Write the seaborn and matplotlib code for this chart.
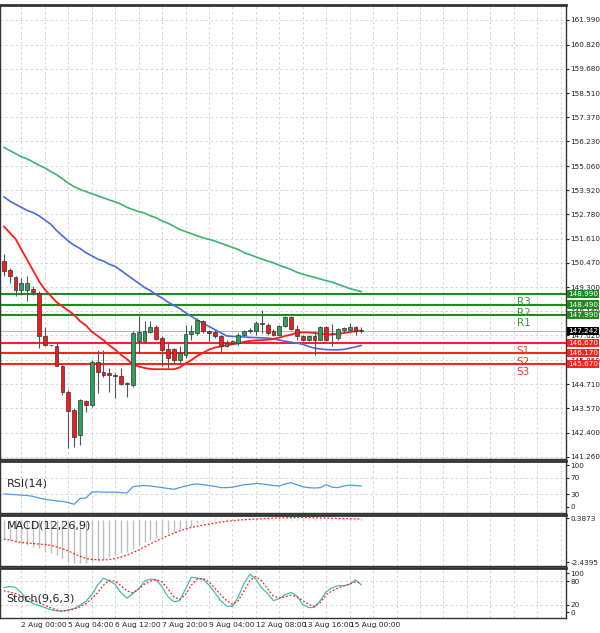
import numpy as np
import pandas as pd
import matplotlib
matplotlib.use("Agg")
import matplotlib.pyplot as plt
import matplotlib.transforms as mtrans
import seaborn as sns

sns.set_style("white")

# ---------------- data ----------------
opens = [150.55,150.12,149.8,149.2,149.2,149.23,149.04,146.98,146.56,146.5,145.58,144.36,143.48,142.29,143.93,143.72,
         145.78,145.31,145.26,145.15,145.1,144.76,144.67,146.74,146.74,147.17,147.42,146.9,146.37,146.37,145.86,146.1,
         147.1,147.14,147.72,147.22,147.17,147.0,146.5,146.66,146.66,147.06,147.22,147.22,147.58,147.53,147.22,147.06,
         147.48,147.9,147.33,146.98,146.82,146.98,146.82,147.42,147.15,146.9,147.26,147.26,147.42,147.29]
highs = [150.9,150.23,149.83,149.75,149.83,149.36,149.12,147.42,146.58,146.66,145.63,144.44,143.56,143.99,143.96,145.86,
         146.34,146.34,145.47,145.23,145.47,144.83,147.22,147.93,147.69,147.69,147.53,146.98,146.66,146.42,146.5,147.53,
         147.53,147.85,147.77,147.29,147.26,147.03,146.82,146.8,147.14,147.29,147.37,147.69,148.22,147.61,147.33,147.53,
         147.93,147.93,147.53,147.06,147.03,147.22,147.45,147.48,147.58,147.37,147.42,147.61,147.45,147.42]
lows = [149.83,149.52,148.88,148.96,148.64,148.96,146.42,146.5,146.52,145.55,144.2,141.66,141.74,141.82,143.4,143.64,
        144.28,145.07,144.36,144.04,144.67,144.12,144.59,146.18,146.66,147.14,146.82,145.55,145.47,145.71,145.71,145.94,
        146.82,147.06,147.14,146.74,146.9,146.26,146.47,146.62,146.58,146.98,147.14,147.06,147.14,147.06,146.98,146.98,
        147.42,147.29,146.82,146.74,146.78,146.1,146.79,146.74,146.5,146.82,147.2,147.22,147.06,147.14]
closes = [150.07,149.83,149.2,149.52,149.52,149.07,146.98,146.58,146.55,145.58,144.36,143.45,142.21,143.96,143.72,145.75,
          145.31,145.15,145.15,145.1,144.72,144.74,147.14,147.17,147.22,147.42,146.85,146.34,145.94,145.86,146.18,147.1,
          147.22,147.77,147.22,147.14,146.98,146.5,146.66,146.74,147.06,147.22,147.29,147.61,147.56,147.14,147.06,147.48,
          147.9,147.33,146.98,146.82,146.98,146.82,147.42,146.82,147.13,147.33,147.37,147.42,147.22,147.24]

ma_fast = [152.2,151.9,151.6,151.1,150.6,150.1,149.6,149.2,148.9,148.6,148.4,148.2,148.0,147.7,147.5,147.2,147.0,146.8,
           146.55,146.35,146.1,145.9,145.65,145.55,145.48,145.43,145.42,145.42,145.42,145.42,145.5,145.7,145.85,146.05,
           146.2,146.35,146.45,146.5,146.56,146.6,146.65,146.72,146.76,146.79,146.8,146.82,146.86,146.92,147.0,147.06,
           147.15,147.17,147.16,147.14,147.1,147.07,147.06,147.1,147.14,147.18,147.22,147.26]
ma_mid = [153.6,153.4,153.25,153.1,152.95,152.85,152.7,152.5,152.3,152.0,151.75,151.5,151.3,151.15,150.95,150.8,150.65,
          150.55,150.4,150.3,150.1,149.9,149.7,149.5,149.3,149.15,148.95,148.8,148.6,148.45,148.3,148.1,147.93,147.75,
          147.6,147.45,147.3,147.15,147.0,146.98,146.96,146.95,146.93,146.92,146.91,146.9,146.86,146.8,146.75,146.7,
          146.66,146.6,146.5,146.42,146.38,146.35,146.34,146.34,146.36,146.42,146.48,146.55]
ma_slow = [155.95,155.8,155.65,155.5,155.4,155.25,155.1,154.97,154.8,154.65,154.45,154.25,154.08,153.95,153.85,153.75,
           153.65,153.55,153.45,153.36,153.25,153.1,153.0,152.9,152.83,152.7,152.6,152.45,152.35,152.2,152.05,151.95,
           151.85,151.75,151.65,151.58,151.5,151.4,151.3,151.2,151.1,150.95,150.85,150.75,150.65,150.55,150.47,150.35,
           150.25,150.15,150.02,149.93,149.85,149.78,149.7,149.62,149.55,149.45,149.35,149.25,149.17,149.1]

rsi = [31,30,29,28,27,25,21,18,16,14,13,10,6,20,21,35,36,35,35,35,34,33,48,50,51,50,48,46,44,42,46,50,53,55,53,51,49,
       46,46,47,50,53,54,56,55,53,51,50,55,58,53,48,46,45,46,53,47,46,50,52,51,50]

macd_hist = [-1.2,-1.31,-1.41,-1.52,-1.63,-1.73,-1.84,-2.06,-2.16,-2.27,-2.48,-2.7,-2.8,-2.8,-2.8,-2.74,-2.66,-2.53,
             -2.38,-2.27,-2.16,-2.06,-1.88,-1.63,-1.46,-1.31,-1.16,-1.03,-0.88,-0.77,-0.66,-0.6,-0.45,-0.24,-0.13,-0.04,
             0.02,0.03,0.04,0.05,0.05,0.06,0.06,0.07,0.07,0.07,0.07,0.07,0.07,0.07,0.07,0.07,0.07,0.07,0.07,0.07,0.07,
             0.07,0.07,0.07,0.07,0.07]
macd_signal = [-1.25,-1.3,-1.4,-1.47,-1.5,-1.53,-1.57,-1.6,-1.65,-1.75,-1.87,-2.0,-2.2,-2.35,-2.5,-2.55,-2.58,-2.59,
               -2.57,-2.5,-2.4,-2.28,-2.12,-1.95,-1.75,-1.55,-1.38,-1.2,-1.03,-0.87,-0.72,-0.6,-0.5,-0.42,-0.35,-0.28,
               -0.22,-0.16,-0.11,-0.07,-0.03,0.0,0.02,0.04,0.06,0.08,0.1,0.11,0.12,0.13,0.13,0.13,0.13,0.12,0.11,0.1,
               0.09,0.08,0.07,0.06,0.05,0.04]

stoch_k = [63,66,64,50,30,22,17,12,7,4,3,6,10,18,28,45,70,88,80,72,50,36,48,60,80,85,84,65,40,27,30,60,90,88,84,70,50,
           30,16,15,40,75,98,85,62,48,30,35,45,51,42,20,12,13,30,53,63,68,68,72,83,70]
stoch_d = [55,52,48,42,38,30,25,18,12,6,3,5,8,14,22,35,50,70,82,80,68,55,50,60,72,80,83,78,60,40,33,45,70,85,87,78,62,
           45,30,20,30,55,82,92,80,60,42,36,40,44,40,30,20,15,25,45,55,62,68,72,78,75]

price_ticks = [161.990,160.820,159.680,158.510,157.370,156.230,155.060,153.920,152.780,151.610,150.470,149.300,
               148.160,147.020,145.850,144.710,143.570,142.400,141.260]
levels = {"R3": 148.99, "R2": 148.49, "R1": 147.99, "S1": 146.67, "S2": 146.17, "S3": 145.67}
last_price = 147.242
date_ticks = [3, 11, 19, 27, 35, 43, 51, 59]
date_labels = ["2 Aug 00:00", "5 Aug 04:00", "6 Aug 12:00", "7 Aug 20:00", "9 Aug 04:00",
               "12 Aug 08:00", "13 Aug 16:00", "15 Aug 00:00"]

# ---------------- figure ----------------
W, H = 600, 633
fig = plt.figure(figsize=(W / 100, H / 100), dpi=100)
fig.patch.set_facecolor("white")

def add(top, bottom):
    return fig.add_axes([0, (H - bottom) / H, 566 / W, (bottom - top) / H])

ax = add(5, 459)
ax_rsi = add(461, 513)
ax_macd = add(515, 566)
ax_st = add(568, 618)

idx = np.arange(len(opens))
XL = (-0.65, 95.9)
grid_kw = dict(color="#cfcfcf", linestyle=(0, (3, 3)), linewidth=0.6)

for a in (ax, ax_rsi, ax_macd, ax_st):
    a.set_xlim(*XL)
    a.yaxis.tick_right()
    a.tick_params(axis="y", labelsize=5.2, length=2, pad=1, colors="#222222")
    a.tick_params(axis="x", length=0, labelbottom=False)
    for x in range(3, 96, 4):
        a.axvline(x, zorder=0, **grid_kw)
    for s in a.spines.values():
        s.set_color("#333333")
        s.set_linewidth(1.0)
    a.spines["top"].set_linewidth(2.0)

# main panel
ax.set_ylim(141.16, 162.7)
ax.set_yticks(price_ticks)
ax.set_yticklabels([f"{t:.3f}" for t in price_ticks])
for t in price_ticks:
    ax.axhline(t, zorder=0, **grid_kw)

df = pd.DataFrame({"i": idx, "fast": ma_fast, "mid": ma_mid, "slow": ma_slow})
sns.lineplot(data=df, x="i", y="slow", ax=ax, color="#3cb371", linewidth=1.2, zorder=3)
sns.lineplot(data=df, x="i", y="mid", ax=ax, color="#4a6ae0", linewidth=1.2, zorder=3)
sns.lineplot(data=df, x="i", y="fast", ax=ax, color="#ff1a1a", linewidth=1.3, zorder=3)

o, h, l, c = map(np.array, (opens, highs, lows, closes))
up = c >= o
ax.vlines(idx, l, h, color="#555555", linewidth=0.8, zorder=4)
body_bot = np.minimum(o, c)
body_h = np.maximum(np.abs(c - o), 0.03)
ax.bar(idx[up], body_h[up], bottom=body_bot[up], width=0.65, color="#2ea05a", edgecolor="#333333", linewidth=0.5, zorder=5)
ax.bar(idx[~up], body_h[~up], bottom=body_bot[~up], width=0.65, color="#ee1c1c", edgecolor="#333333", linewidth=0.5, zorder=5)

btrans = mtrans.blended_transform_factory(ax.transAxes, ax.transData)
for name, val in levels.items():
    col = "#1f8a1f" if name.startswith("R") else "#ff2020"
    tcol = "#3a9a3a" if name.startswith("R") else "#ff3030"
    ax.axhline(val, color=col, linewidth=1.5, zorder=2)
    ax.text(87.5, val - 0.15, name, color=tcol, fontsize=7.5, va="top", ha="left")
    ax.text(1.003, val, f"{val:.3f}", transform=btrans, fontsize=5.2, color="white", va="center", ha="left",
            bbox=dict(boxstyle="square,pad=0.15", facecolor=col, edgecolor="none"), clip_on=False, zorder=10)
ax.text(1.003, last_price, f"{last_price:.3f}", transform=btrans, fontsize=5.2, color="white", va="center", ha="left",
        bbox=dict(boxstyle="square,pad=0.15", facecolor="black", edgecolor="none"), clip_on=False, zorder=10)
ax.axhline(last_price, color="#999999", linewidth=0.5, zorder=1)

# RSI
ax_rsi.set_ylim(-15, 110)
ax_rsi.set_yticks([0, 30, 70, 100])
for t in [30, 70]:
    ax_rsi.axhline(t, zorder=0, **grid_kw)
sns.lineplot(x=idx, y=rsi, ax=ax_rsi, color="#4a9be8", linewidth=0.9)
ax_rsi.text(0.5, 55, "RSI(14)", fontsize=8, va="center", ha="left")

# MACD
ax_macd.set_ylim(-2.98, 0.3)
ax_macd.set_yticks([0.086, -2.74])
ax_macd.set_yticklabels(["0.3873", "-2.4395"])
ax_macd.vlines(idx, 0, macd_hist, color="#bdbdbd", linewidth=1.0, zorder=2)
sns.lineplot(x=idx, y=macd_signal, ax=ax_macd, color="#ff2020", linewidth=0.9, linestyle=(0, (1.5, 1.5)), zorder=3)
ax_macd.text(0.5, -0.35, "MACD(12,26,9)", fontsize=8, va="center", ha="left")

# Stochastic
ax_st.set_ylim(-14.6, 113.6)
ax_st.set_yticks([0, 20, 80, 100])
for t in [20, 80]:
    ax_st.axhline(t, zorder=0, **grid_kw)
sns.lineplot(x=idx, y=stoch_k, ax=ax_st, color="#3cbfb0", linewidth=0.9)
sns.lineplot(x=idx, y=stoch_d, ax=ax_st, color="#ff2020", linewidth=0.9, linestyle=(0, (1.5, 1.5)))
ax_st.text(0.5, 35, "Stoch(9,6,3)", fontsize=8, va="center", ha="left")
ax_st.set_xticks(date_ticks)
ax_st.set_xticklabels(date_labels, fontsize=5.4, ha="left")
ax_st.tick_params(axis="x", labelbottom=True, length=0, pad=3)

for a in (ax, ax_rsi, ax_macd, ax_st):
    a.set_xlabel("")
    a.set_ylabel("")

fig.savefig("out.png", dpi=100, facecolor="white")
